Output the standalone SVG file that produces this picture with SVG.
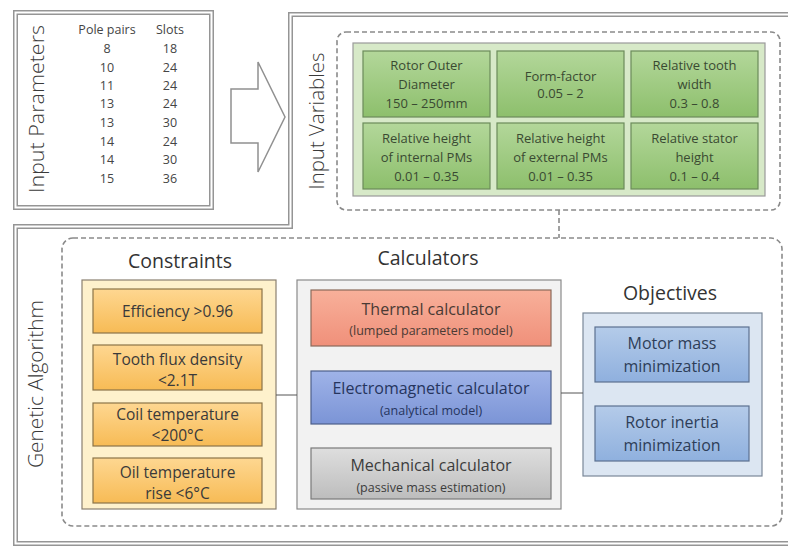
<svg xmlns="http://www.w3.org/2000/svg" width="788" height="547" viewBox="0 0 788 547">
<defs>
<linearGradient id="gGreen" x1="0" y1="0" x2="0" y2="1"><stop offset="0" stop-color="#b3d79a"/><stop offset="1" stop-color="#8dbf6c"/></linearGradient>
<linearGradient id="gOrange" x1="0" y1="0" x2="0" y2="1"><stop offset="0" stop-color="#fed791"/><stop offset="1" stop-color="#f7bb55"/></linearGradient>
<linearGradient id="gRed" x1="0" y1="0" x2="0" y2="1"><stop offset="0" stop-color="#f8b09a"/><stop offset="1" stop-color="#f0907a"/></linearGradient>
<linearGradient id="gBlue" x1="0" y1="0" x2="0" y2="1"><stop offset="0" stop-color="#9fb3e8"/><stop offset="1" stop-color="#7b94d6"/></linearGradient>
<linearGradient id="gGray" x1="0" y1="0" x2="0" y2="1"><stop offset="0" stop-color="#dedede"/><stop offset="1" stop-color="#bdbdbd"/></linearGradient>
<linearGradient id="gObj" x1="0" y1="0" x2="0" y2="1"><stop offset="0" stop-color="#b4cbe9"/><stop offset="1" stop-color="#8fb0de"/></linearGradient>
</defs>
<style>
text{font-family:"Open Sans","Liberation Sans",sans-serif;text-anchor:middle}
.dbl{fill:none;stroke:#959595;stroke-width:5}
.dblw{fill:none;stroke:#fff;stroke-width:2}
.dash{fill:none;stroke:#8a8a8a;stroke-width:1.6;stroke-dasharray:5 3}
.side{font-size:20px;fill:#3a3a3a;font-weight:300}
.tbl{font-size:12.5px;fill:#454545}
.cell{fill:url(#gGreen);stroke:#6b8b5a;stroke-width:1.2}
.ct{font-size:13px;fill:#3a4a32}
.title{font-size:19.5px;fill:#333}
.con{fill:url(#gOrange);stroke:#8b7448;stroke-width:1.2}
.cont{font-size:15.5px;fill:#3a3a3a}
.calc1{font-size:16px}
.calc2{font-size:12.5px}
.obj{fill:url(#gObj);stroke:#5c7190;stroke-width:1.2}
.objt{font-size:16px;fill:#2e3e58}
.conn{stroke:#555;stroke-width:1;fill:none}
</style>

<g id="frames">
<rect class="dbl" x="15.5" y="12.5" width="196" height="195"/>
<rect class="dblw" x="15.5" y="12.5" width="196" height="195"/>
<path class="dbl" d="M792 14.5 H290.5 V226.5 H15.5 V543.5 H792"/>
<path class="dblw" d="M792 14.5 H290.5 V226.5 H15.5 V543.5 H792"/>
</g>

<g id="input-parameters">
<text class="side" transform="translate(44,109) rotate(-90)" textLength="168" lengthAdjust="spacingAndGlyphs">Input Parameters</text>
<text class="tbl" x="107" y="34">Pole pairs</text>
<text class="tbl" x="170" y="34">Slots</text>
<text class="tbl" x="107" y="53">8</text><text class="tbl" x="170" y="53">18</text>
<text class="tbl" x="107" y="72">10</text><text class="tbl" x="170" y="72">24</text>
<text class="tbl" x="107" y="90">11</text><text class="tbl" x="170" y="90">24</text>
<text class="tbl" x="107" y="108">13</text><text class="tbl" x="170" y="108">24</text>
<text class="tbl" x="107" y="127">13</text><text class="tbl" x="170" y="127">30</text>
<text class="tbl" x="107" y="146">14</text><text class="tbl" x="170" y="146">24</text>
<text class="tbl" x="107" y="164">14</text><text class="tbl" x="170" y="164">30</text>
<text class="tbl" x="107" y="183">15</text><text class="tbl" x="170" y="183">36</text>
</g>

<g id="arrow">
<path d="M231 89 H258 V62 L285 117 L258 172 V143 H231 Z" fill="#fff" stroke="#909090" stroke-width="1.5"/>
</g>

<g id="input-variables">
<text class="side" transform="translate(324,121) rotate(-90)" textLength="137" lengthAdjust="spacingAndGlyphs">Input Variables</text>
<rect class="dash" x="337" y="32" width="443" height="178" rx="9"/>
<rect x="353" y="43" width="412" height="153" fill="#d7e9c8" stroke="#9a9a9a" stroke-width="1.2"/>
</g>

<g id="rotor-outer-diameter">
<rect class="cell" x="363" y="51" width="127" height="66"/>
<text class="ct" x="426.5" y="69.5">Rotor Outer</text>
<text class="ct" x="426.5" y="88.5">Diameter</text>
<text class="ct" x="426.5" y="107.5">150 – 250mm</text>
</g>
<g id="form-factor">
<rect class="cell" x="497" y="51" width="127" height="66"/>
<text class="ct" x="560.5" y="81">Form-factor</text>
<text class="ct" x="560.5" y="98">0.05 – 2</text>
</g>
<g id="relative-tooth-width">
<rect class="cell" x="631" y="51" width="127" height="66"/>
<text class="ct" x="694.5" y="69.5">Relative tooth</text>
<text class="ct" x="694.5" y="88.5">width</text>
<text class="ct" x="694.5" y="107.5">0.3 – 0.8</text>
</g>
<g id="rel-height-internal">
<rect class="cell" x="363" y="123" width="127" height="66"/>
<text class="ct" x="426.5" y="142.5">Relative height</text>
<text class="ct" x="426.5" y="161.5">of internal PMs</text>
<text class="ct" x="426.5" y="180.5">0.01 – 0.35</text>
</g>
<g id="rel-height-external">
<rect class="cell" x="497" y="123" width="127" height="66"/>
<text class="ct" x="560.5" y="142.5">Relative height</text>
<text class="ct" x="560.5" y="161.5">of external PMs</text>
<text class="ct" x="560.5" y="180.5">0.01 – 0.35</text>
</g>
<g id="rel-stator-height">
<rect class="cell" x="631" y="123" width="127" height="66"/>
<text class="ct" x="694.5" y="142.5">Relative stator</text>
<text class="ct" x="694.5" y="161.5">height</text>
<text class="ct" x="694.5" y="180.5">0.1 – 0.4</text>
</g>

<g id="genetic-algorithm">
<text class="side" transform="translate(43,384) rotate(-90)" textLength="168" lengthAdjust="spacingAndGlyphs">Genetic Algorithm</text>
<rect class="dash" x="62" y="238" width="720" height="288" rx="11"/>
</g>

<g id="constraints">
<text class="title" x="180" y="268">Constraints</text>
<rect x="82" y="280" width="194" height="229" fill="#fef1cc" stroke="#8a8070" stroke-width="1.2"/>
</g>
<g id="efficiency">
<rect class="con" x="93" y="289" width="169" height="44"/>
<text class="cont" x="177.5" y="317">Efficiency &gt;0.96</text>
</g>
<g id="tooth-flux">
<rect class="con" x="93" y="345" width="169" height="45"/>
<text class="cont" x="177.5" y="365">Tooth flux density</text>
<text class="cont" x="177.5" y="386">&lt;2.1T</text>
</g>
<g id="coil-temp">
<rect class="con" x="93" y="403" width="169" height="43"/>
<text class="cont" x="177.5" y="420">Coil temperature</text>
<text class="cont" x="177.5" y="441">&lt;200°C</text>
</g>
<g id="oil-temp">
<rect class="con" x="93" y="458" width="169" height="45"/>
<text class="cont" x="177.5" y="478">Oil temperature</text>
<text class="cont" x="177.5" y="499">rise &lt;6°C</text>
</g>

<g id="calculators">
<text class="title" x="428" y="265">Calculators</text>
<rect x="297" y="280" width="264" height="229" fill="#f2f2f2" stroke="#8a8a8a" stroke-width="1.2"/>
</g>
<g id="thermal">
<rect x="311" y="290" width="240" height="56" fill="url(#gRed)" stroke="#8a6a5a" stroke-width="1.2"/>
<text class="calc1" x="431" y="315" fill="#4a3a34">Thermal calculator</text>
<text class="calc2" x="431" y="335" fill="#4a3a34">(lumped parameters model)</text>
</g>
<g id="electromagnetic">
<rect x="311" y="371" width="240" height="53" fill="url(#gBlue)" stroke="#4e5f8a" stroke-width="1.2"/>
<text class="calc1" x="431" y="394" fill="#26355e">Electromagnetic calculator</text>
<text class="calc2" x="431" y="415" fill="#26355e">(analytical model)</text>
</g>
<g id="mechanical">
<rect x="311" y="448" width="240" height="51" fill="url(#gGray)" stroke="#7a7a7a" stroke-width="1.2"/>
<text class="calc1" x="431" y="471" fill="#3c3c3c">Mechanical calculator</text>
<text class="calc2" x="431" y="492" fill="#3c3c3c">(passive mass estimation)</text>
</g>

<g id="objectives">
<text class="title" x="670" y="300">Objectives</text>
<rect x="583" y="313" width="179" height="163" fill="#dce6f2" stroke="#7a8898" stroke-width="1.2"/>
</g>
<g id="motor-mass">
<rect class="obj" x="595" y="327" width="154" height="55"/>
<text class="objt" x="672" y="349">Motor mass</text>
<text class="objt" x="672" y="372">minimization</text>
</g>
<g id="rotor-inertia">
<rect class="obj" x="595" y="406" width="154" height="55"/>
<text class="objt" x="672" y="428">Rotor inertia</text>
<text class="objt" x="672" y="451">minimization</text>
</g>

<g id="connectors">
<line class="dash" x1="559" y1="210" x2="559" y2="238"/>
<line class="conn" x1="276" y1="395" x2="297" y2="395"/>
<line class="conn" x1="561" y1="393" x2="583" y2="393"/>
</g>
</svg>
